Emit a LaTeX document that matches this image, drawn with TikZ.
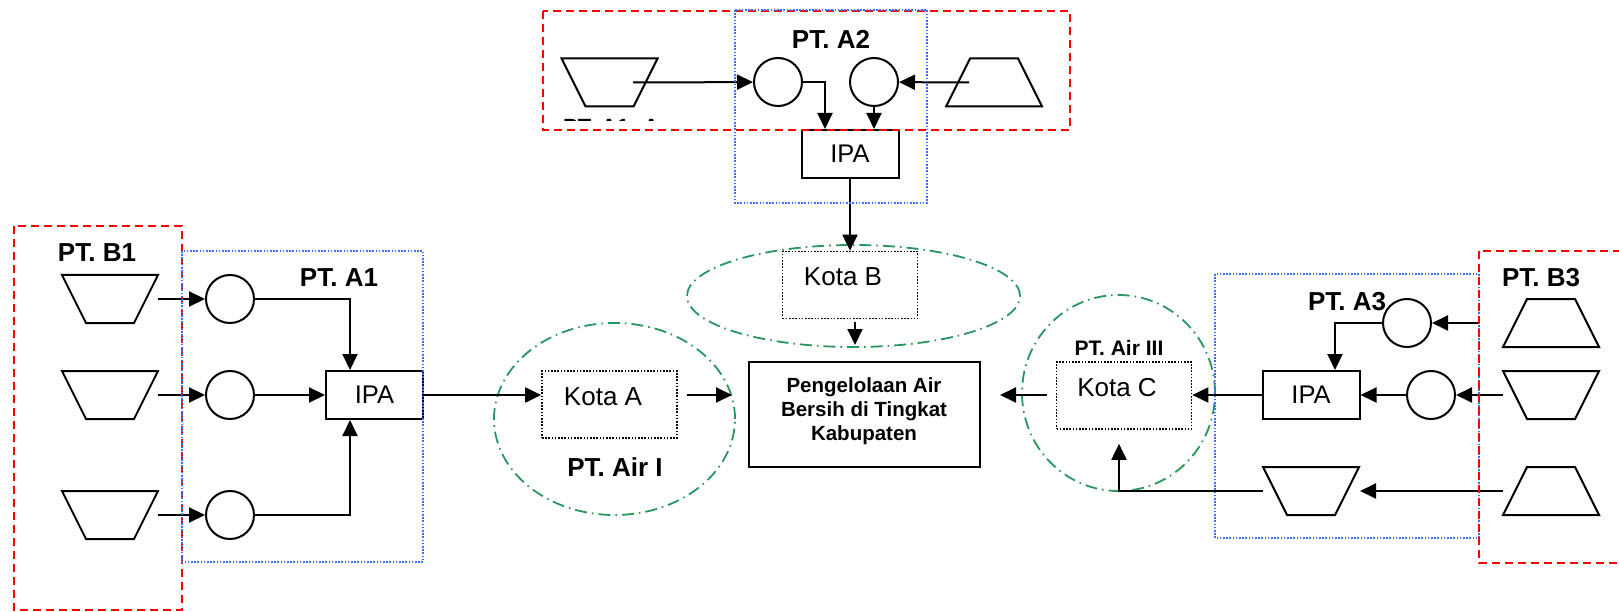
\documentclass[tikz,border=0pt]{standalone}
\usepackage{fontspec}
\setmainfont{Liberation Sans}
\usetikzlibrary{shapes.geometric,arrows.meta,calc}
\definecolor{rd}{RGB}{255,0,0}
\definecolor{bl}{RGB}{60,110,255}
\definecolor{gr}{RGB}{40,150,95}
\newcommand{\trapD}[2]{\coordinate (#1) at #2;
 \draw[shp] ($(#1)+(-48,-24)$) -- ($(#1)+(48,-24)$) -- ($(#1)+(24,24)$) -- ($(#1)+(-24,24)$) -- cycle;}
\newcommand{\trapU}[2]{\coordinate (#1) at #2;
 \draw[shp] ($(#1)+(-24,-24)$) -- ($(#1)+(24,-24)$) -- ($(#1)+(48,24)$) -- ($(#1)+(-48,24)$) -- cycle;}
\begin{document}
\begin{tikzpicture}[x=1pt,y=-1pt,
 shp/.style={line width=2pt},
 arr/.style={line width=2pt,-{Triangle[length=16pt,width=15pt]}},
 circ/.style={circle,draw,line width=2pt,minimum size=48pt,inner sep=0pt},
 ipabox/.style={rectangle,draw,line width=2pt,minimum width=97pt,minimum height=48pt,inner sep=0pt,font=\fontsize{25.5}{30}\selectfont},
 kota/.style={rectangle,draw,line width=1.7pt,dash pattern=on 1.6pt off 1.6pt,minimum width=135pt,minimum height=67pt,inner sep=0pt},
 ktext/.style={font=\fontsize{26}{30}\selectfont,inner sep=0pt},
 lbl/.style={font=\bfseries\fontsize{26}{30}\selectfont,inner sep=0pt},
 redbox/.style={draw=rd,line width=2pt,dash pattern=on 8pt off 5pt},
 bluebox/.style={draw=bl,line width=1.8pt,dash pattern=on 1.6pt off 1.6pt},
 grell/.style={ellipse,draw=gr,line width=1.8pt,dash pattern=on 12pt off 5pt on 1.6pt off 5pt,inner sep=0pt}]
\useasboundingbox (0,0) rectangle (1619,612);
\clip (0,0) rectangle (1619,612);

% green ellipses
\node[grell,minimum width=241pt,minimum height=192pt] (ea) at (614.5,419) {};
\node[grell,minimum width=333pt,minimum height=102pt] (eb) at (853.5,296) {};
\node[grell,minimum width=193pt,minimum height=196pt] (ec) at (1118.5,393) {};

% labels
\node[lbl] (lb1) at (97,253) {PT. B1};
\node[lbl] (la1) at (339,278) {PT. A1};
\node[lbl] (la2) at (831,39) {PT. A2};
\node[lbl] (la3) at (1347,302) {PT. A3};
\node[lbl] (lb3) at (1541,278) {PT. B3};
\node[lbl] (lair1) at (615,467) {PT. Air I};
\node[font=\bfseries\fontsize{21}{25}\selectfont,inner sep=0pt] (lair3) at (1119,348) {PT. Air III};

\begin{scope}
\clip (540,112) rectangle (700,121);
\node[font=\bfseries\fontsize{22}{26}\selectfont,anchor=north west,inner sep=0pt] (hid) at (563,119) {PT. A1. A};
\end{scope}

% trapezoids
\trapD{tb11}{(110,299)}
\trapD{tb12}{(110,395)}
\trapD{tb13}{(110,515)}
\trapD{ta21}{(609.5,82.5)}
\trapU{ta22}{(994,82.5)}
\trapD{ta3}{(1311,491)}
\trapU{tb31}{(1551,323)}
\trapD{tb32}{(1551,395)}
\trapU{tb33}{(1551,491)}

% circles
\node[circ] (c11) at (230,299) {};
\node[circ] (c12) at (230,395) {};
\node[circ] (c13) at (230,515) {};
\node[circ] (c21) at (778,82) {};
\node[circ] (c22) at (874,82) {};
\node[circ] (c31) at (1407,323) {};
\node[circ] (c32) at (1431,395) {};

% IPA boxes
\node[ipabox] (ipa1) at (374.5,395) {IPA};
\node[ipabox] (ipa2) at (850,154) {IPA};
\node[ipabox] (ipa3) at (1311,395) {IPA};

% Kota boxes
\node[kota] (ka) at (609.5,404.5) {};
\node[kota] (kb) at (850,285) {};
\node[kota] (kc) at (1124,395.5) {};
\node[ktext] (kat) at (603,397) {Kota A};
\node[ktext] (kbt) at (843,277) {Kota B};
\node[ktext] (kct) at (1117,388) {Kota C};

% main box
\node[draw,line width=2pt,minimum width=231pt,minimum height=105pt,inner sep=0pt] (main) at (864.5,414.5) {};
\node[font=\bfseries\fontsize{20.5}{24}\selectfont,align=center,inner sep=0pt] (mtext) at (864,411) {Pengelolaan Air\\Bersih di Tingkat\\Kabupaten};

% connectors A1/B1
\draw[arr] ([xshift=48pt]tb11) -- (c11);
\draw[arr] ([xshift=48pt]tb12) -- (c12);
\draw[arr] ([xshift=48pt]tb13) -- (c13);
\draw[arr] (c11) -| ([xshift=-24.5pt]ipa1.north);
\draw[arr] (c12) -- (ipa1);
\draw[arr] (c13) -| ([xshift=-24.5pt]ipa1.south);
\draw[arr] (ipa1.east) -- (ka.west |- ipa1);
\draw[arr,shorten <=9pt,shorten >=16pt] (ka.east |- ipa1) -- (main.west |- ipa1);

% connectors A2
\draw[arr] ([xshift=23.5pt]ta21) -- (c21);
\draw[arr] ([xshift=-25pt]ta22) -- (c22);
\draw[arr] (c21) -| ([xshift=-25pt]ipa2.north);
\draw[arr] (c22) -- (c22 |- ipa2.north);
\draw[arr] (ipa2) -- (kb);
\draw[arr,shorten <=3pt,shorten >=16pt] ([xshift=5pt]kb.south) -- ([xshift=5pt]kb.south |- main.north);

% connectors A3/B3
\draw[arr] ([xshift=-72pt]tb31) -- (c31);
\draw[arr] ([xshift=-48pt]tb32) -- (c32);
\draw[arr] (c31) -| ([xshift=24pt]ipa3.north);
\draw[arr] (c32) -- (ipa3);
\draw[arr] (ipa3.west) -- (kc.east |- ipa3);
\draw[arr,shorten <=9pt,shorten >=19pt] (kc.west |- ipa3) -- (main.east |- ipa3);
\draw[arr] ([xshift=-48pt]tb33) -- ([xshift=49pt]ta3);
\draw[arr,shorten >=14pt] ([xshift=-48pt]ta3) -| ([xshift=-5pt]kc.south);

% group boxes
\draw[redbox] (14,226) rectangle (182,610);
\draw[bluebox] (182,251) rectangle (423,562);
\draw[redbox] (543,11) rectangle (1070,130);
\draw[bluebox] (735,10) rectangle (927,203);
\draw[bluebox] (1215,274) rectangle (1479,538);
\draw[redbox] (1479,251) rectangle (1680,563);
\end{tikzpicture}
\end{document}
